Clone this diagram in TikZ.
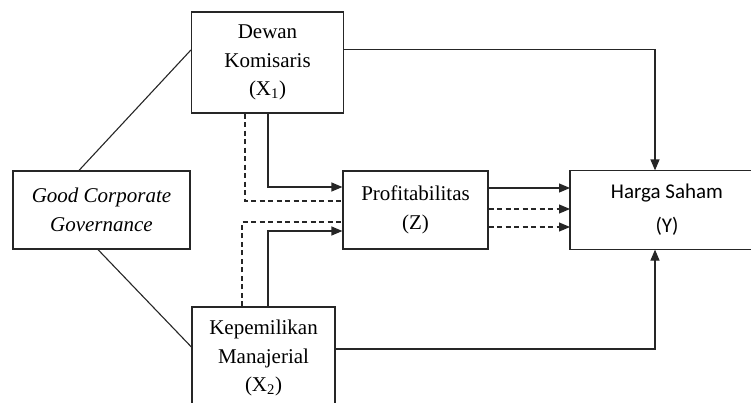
\documentclass[tikz,border=0pt]{standalone}
\usepackage{fontspec}
\setmainfont{Liberation Serif}
\newfontfamily\calfont{Carlito}
\usetikzlibrary{arrows.meta,calc}
\begin{document}
\begin{tikzpicture}[x=1pt,y=-1pt,
  box/.style={draw=black!85,line width=1.2pt,align=center,inner sep=0pt,
    font=\fontsize{21}{28.5}\selectfont},
  arr/.style={draw=black!85,line width=1.2pt,-{Triangle[length=11pt,width=9pt]}},
  dsh/.style={draw=black!85,line width=1.1pt,dash pattern=on 5pt off 3.5pt},
  dsharr/.style={dsh,-{Triangle[length=11pt,width=9pt]}},
  plain/.style={draw=black!85,line width=1.1pt}]
\useasboundingbox (0,0) rectangle (751,402);
\clip (0,0) rectangle (751,402);
\node[box,minimum width=177pt,minimum height=78pt] (gcg) at (101.5,210)
  {\itshape Good Corporate\\\itshape Governance};
\node[box,minimum width=152pt,minimum height=101pt] (dk) at (267.5,62.5)
  {Dewan\\Komisaris\\(X\textsubscript{1})};
\node[box,minimum width=143pt,minimum height=102pt] (km) at (263.5,358)
  {Kepemilikan\\Manajerial\\(X\textsubscript{2})};
\node[box,minimum width=145pt,minimum height=78pt] (pf) at (415.5,210)
  {Profitabilitas\\(Z)};
\node[box,draw=none,anchor=west,minimum width=240pt,minimum height=78pt] (hs) at (570,210) {};
\draw[draw=black!85,line width=1.2pt] (hs.north east) -- (hs.north west)
  -- (hs.south west) -- (hs.south east);
\node[align=center,inner sep=0pt,font=\calfont\fontsize{21}{34}\selectfont]
  (hst) at (667,210) {Harga Saham\\(Y)};
% GCG links
\draw[plain] ([xshift=-22.5pt]gcg.north) -- ([yshift=12.5pt]dk.west);
\draw[plain] ([xshift=-3.5pt]gcg.south) -- ([yshift=11pt]km.west);
% direct paths to Y
\draw[arr] ([yshift=13pt]dk.east) -| ([xshift=85pt]hs.north west);
\draw[arr] ([yshift=9pt]km.east) -| ([xshift=85pt]hs.south west);
% Z to Y
\draw[arr] ([yshift=22pt]pf.east) -- ([yshift=22pt]pf.east -| hs.west);
\draw[dsharr] ([yshift=1pt]pf.east) -- ([yshift=1pt]pf.east -| hs.west);
\draw[dsharr] ([yshift=-17pt]pf.east) -- ([yshift=-17pt]pf.east -| hs.west);
% X to Z
\draw[arr] ([xshift=0.5pt]dk.south) |- ([yshift=23pt]pf.west);
\draw[dsh] ([xshift=-22.5pt]dk.south) |- ([yshift=9pt]pf.west);
\draw[dsh] ([xshift=-21.5pt]km.north) |- ([yshift=-12pt]pf.west);
\draw[arr] ([xshift=4.5pt]km.north) |- ([yshift=-21pt]pf.west);
\end{tikzpicture}
\end{document}
